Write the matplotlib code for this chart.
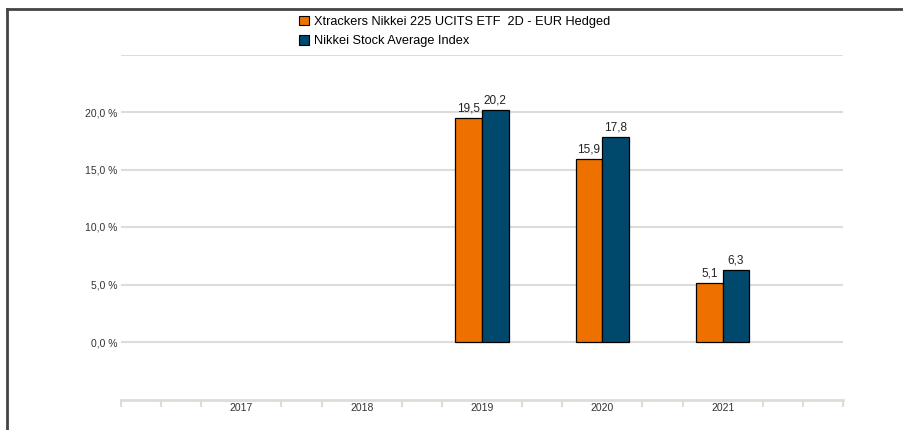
import numpy as np
import matplotlib.pyplot as plt
from matplotlib.lines import Line2D
from matplotlib.patches import Patch

plt.rcParams['font.family'] = ['Liberation Sans', 'DejaVu Sans']

years = [2017, 2018, 2019, 2020, 2021]
etf_values = [np.nan, np.nan, 19.5, 15.9, 5.1]
index_values = [np.nan, np.nan, 20.2, 17.8, 6.3]
etf_name = 'Xtrackers Nikkei 225 UCITS ETF  2D - EUR Hedged'
index_name = 'Nikkei Stock Average Index'

ORANGE = '#ee7100'
BLUE = '#00496c'
GRID = '#dedcd6'
bar_w = 0.222


def fmt(v):
    return '{:.1f}'.format(v).replace('.', ',')


fig = plt.figure(figsize=(9.04, 4.30), dpi=100)
ax = fig.add_axes([121 / 904, 1 - 399.5 / 430, 722 / 904, 345 / 430])

x = np.array(years, dtype=float)
b1 = ax.bar(x - bar_w / 2, etf_values, bar_w, color=ORANGE, edgecolor='black', linewidth=0.9, zorder=3)
b2 = ax.bar(x + bar_w / 2, index_values, bar_w, color=BLUE, edgecolor='black', linewidth=0.9, zorder=3)

for bars, vals in ((b1, etf_values), (b2, index_values)):
    for rect, v in zip(bars, vals):
        if np.isnan(v):
            continue
        ax.annotate(fmt(v), (rect.get_x() + rect.get_width() / 2, v), xytext=(0, 2.5),
                    textcoords='offset points', ha='center', va='bottom', fontsize=8.5, color='#222222')

ax.set_xlim(2016, 2022)
ax.set_ylim(-5, 25)

yt = [0, 5, 10, 15, 20, 25]
ax.set_yticks(yt)
ax.set_yticklabels([fmt(v) + ' %' for v in yt[:-1]] + [''], fontsize=7.5, color='#333333')
ax.tick_params(axis='y', length=0, pad=2.5)
for v in yt:
    ax.axhline(v, color=GRID, linewidth=1.5, zorder=1)

ax.set_xticks(years)
ax.set_xticklabels([str(y) for y in years], fontsize=7.5, color='#333333')
ax.tick_params(axis='x', length=0, pad=2.5)
minor = [2016 + k / 3 for k in range(19) if (k % 3 != 0) or k in (0, 18)]
ax.set_xticks(minor, minor=True)
ax.tick_params(axis='x', which='minor', length=5, width=1.5, color=GRID)

for s in ('top', 'right', 'left'):
    ax.spines[s].set_visible(False)
ax.spines['bottom'].set_color(GRID)
ax.spines['bottom'].set_linewidth(2)

handles = [Patch(facecolor=ORANGE, edgecolor='black', linewidth=0.8),
           Patch(facecolor=BLUE, edgecolor='black', linewidth=0.8)]
fig.legend(handles, [etf_name, index_name], loc='upper left', bbox_to_anchor=(294 / 904, 1 - 11 / 430),
           frameon=False, fontsize=9.2, handlelength=0.75, handleheight=0.75, handletextpad=0.45,
           labelspacing=0.55, borderaxespad=0)

# outer frame (top and left edges)
fig.add_artist(Line2D([7 / 904, 1], [1 - 9 / 430, 1 - 9 / 430], color='#444444', linewidth=2))
fig.add_artist(Line2D([7 / 904, 7 / 904], [0, 1 - 9 / 430], color='#444444', linewidth=2))

fig.savefig('out.png', dpi=100)
